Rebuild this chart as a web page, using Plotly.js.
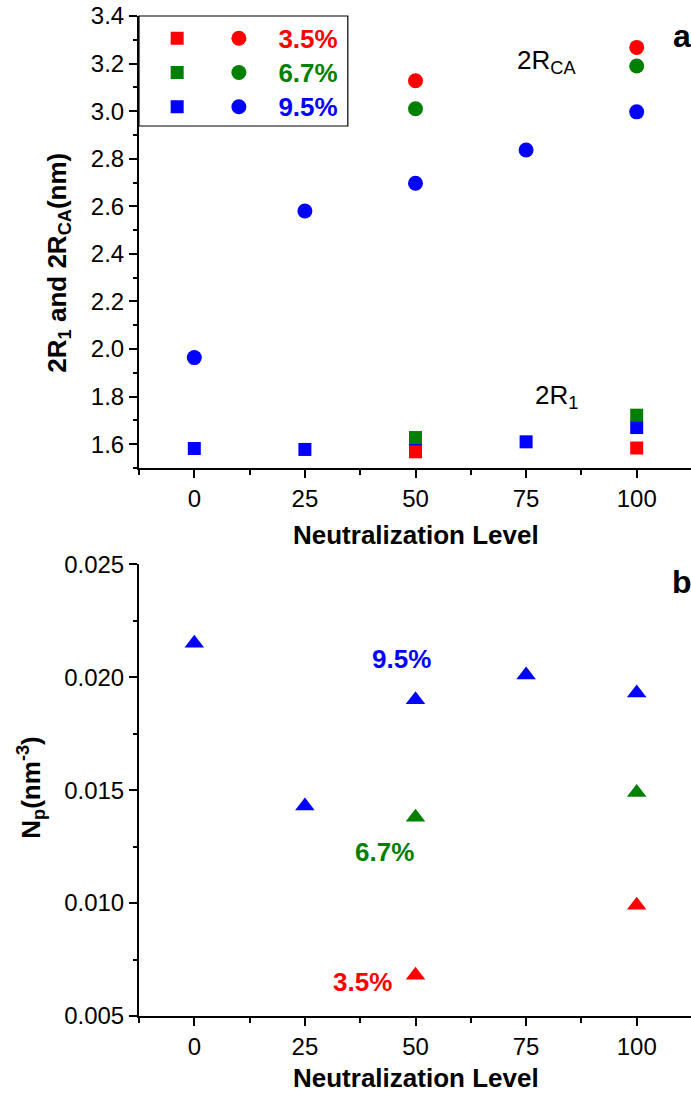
<!DOCTYPE html>
<html><head><meta charset="utf-8">
<script src="https://cdn.plot.ly/plotly-3.0.1.min.js"></script>
<style>html,body{margin:0;padding:0;overflow:hidden;background:#fff}#chart{width:700px;height:1093px}</style>
</head><body><div id="chart"></div>
<script>
// ---- data ----
const levels = [0, 25, 50, 75, 100];
// 2R1 (squares)
const r1_35 = [null, null, 1.568, null, 1.584];
const r1_67 = [null, null, 1.628, null, 1.722];
const r1_95 = [1.582, 1.578, 1.600, 1.610, 1.670];
// 2RCA (circles)
const rca_35 = [null, null, 3.128, null, 3.268];
const rca_67 = [null, null, 3.010, null, 3.190];
const rca_95 = [1.964, 2.580, 2.697, 2.837, 2.997];
// Np (triangles)
const np_35 = [null, null, 0.0068, null, 0.0099];
const np_67 = [null, null, 0.0138, null, 0.0149];
const np_95 = [0.0215, 0.0143, 0.0190, 0.0201, 0.0193];
const seriesNames = ['3.5%', '6.7%', '9.5%'];
const colors = ['#ff0000', '#008000', '#0000ff'];
const xTicks = [0, 25, 50, 75, 100];

// ---- layout geometry (pixels) ----
const W = 700, H = 1093, L = 138.5, R = 692.5, T = 16, B = 1016;
const pw = R - L, ph = B - T;
const px2x = p => (p - L) / pw;
const py2y = p => (B - p) / ph;

const FONT = 'Liberation Sans, Arial, Helvetica, sans-serif';
const black = '#000000';

const traces = [];
// squares: blue, green, red order (red on top)
[[r1_95, 2], [r1_67, 1], [r1_35, 0]].forEach(([d, i]) => {
  traces.push({x: levels, y: d, type: 'scatter', mode: 'markers', xaxis: 'x', yaxis: 'y',
    name: ' ', legend: 'legend', legendrank: i + 1,
    marker: {symbol: 'square', size: 13, color: colors[i]}, hoverinfo: 'skip'});
});
[[rca_95, 2], [rca_67, 1], [rca_35, 0]].forEach(([d, i]) => {
  traces.push({x: levels, y: d, type: 'scatter', mode: 'markers', xaxis: 'x', yaxis: 'y',
    name: '<span style="color:' + colors[i] + ';font-size:26px">' + seriesNames[i] + '</span>',
    legend: 'legend2', legendrank: i + 1,
    marker: {symbol: 'circle', size: 15, color: colors[i]}, hoverinfo: 'skip'});
});
[[np_95, 2], [np_67, 1], [np_35, 0]].forEach(([d, i]) => {
  traces.push({x: levels, y: d, type: 'scatter', mode: 'markers', xaxis: 'x2', yaxis: 'y2',
    name: seriesNames[i], showlegend: false,
    marker: {symbol: 'triangle-up', size: 17, color: colors[i]}, hoverinfo: 'skip'});
});

const tickFont = {family: FONT, size: 24, color: black};
function xAxisBase(anchor) {
  return {domain: [0, 1], anchor: anchor, range: [-12.5, 112.5], tickmode: 'array', tickvals: xTicks,
    ticks: 'outside', ticklen: 8, tickwidth: 2, tickcolor: black,
    showline: true, linewidth: 2, linecolor: black, showgrid: false, zeroline: false,
    tickfont: tickFont,
    minor: {tick0: 0, dtick: 12.5, ticks: 'outside', ticklen: 5, tickwidth: 2, tickcolor: black, showgrid: false}};
}
function xAxisTop(over, anchor) {
  return {overlaying: over, anchor: anchor, side: 'top', range: [-12.5, 112.5], tickmode: 'array', tickvals: xTicks,
    ticks: 'inside', ticklen: 9, tickwidth: 2, tickcolor: black, showticklabels: false,
    showline: true, linewidth: 2, linecolor: black, showgrid: false, zeroline: false,
    minor: {tick0: 0, dtick: 12.5, ticks: 'inside', ticklen: 4, tickwidth: 2, tickcolor: black, showgrid: false}};
}
function yAxisRight(over, anchor, range, dtick) {
  return {overlaying: over, anchor: anchor, side: 'right', range: range, tick0: 0, dtick: dtick,
    ticks: 'inside', ticklen: 9, tickwidth: 2, tickcolor: black, showticklabels: false,
    showline: true, linewidth: 2, linecolor: black, showgrid: false, zeroline: false};
}

const legFont = {family: FONT, size: 24, weight: 'bold', color: black};
const layout = {
  width: W, height: H, autosize: false,
  margin: {l: L, r: W - R, t: T, b: H - B, pad: 0},
  paper_bgcolor: '#ffffff', plot_bgcolor: 'rgba(0,0,0,0)',
  font: {family: FONT, color: black},
  xaxis: xAxisBase('y'),
  xaxis2: xAxisBase('y2'),
  xaxis3: xAxisTop('x', 'y'),
  xaxis4: xAxisTop('x2', 'y2'),
  yaxis: {domain: [py2y(468), 1], anchor: 'x', range: [1.5, 3.4], tick0: 0, dtick: 0.2, tickformat: '.1f',
    ticks: 'outside', ticklen: 8, tickwidth: 2, tickcolor: black,
    showline: true, linewidth: 2, linecolor: black, showgrid: false, zeroline: false, tickfont: tickFont,
    minor: {tick0: 0, dtick: 0.1, ticks: 'outside', ticklen: 4, tickwidth: 2, tickcolor: black, showgrid: false}},
  yaxis2: {domain: [0, py2y(564.3)], anchor: 'x2', range: [0.005, 0.025], tick0: 0, dtick: 0.005, tickformat: '.3f',
    ticks: 'outside', ticklen: 8, tickwidth: 2, tickcolor: black,
    showline: true, linewidth: 2, linecolor: black, showgrid: false, zeroline: false, tickfont: tickFont,
    minor: {tick0: 0, dtick: 0.0025, ticks: 'outside', ticklen: 4, tickwidth: 2, tickcolor: black, showgrid: false}},
  yaxis3: yAxisRight('y', 'x', [1.5, 3.4], 0.2),
  yaxis4: yAxisRight('y2', 'x2', [0.005, 0.025], 0.005),
  showlegend: true,
  legend: {x: px2x(156.7), y: py2y(16.2), xanchor: 'left', yanchor: 'top', bgcolor: 'rgba(0,0,0,0)',
    borderwidth: 0, itemwidth: 30, font: legFont, tracegroupgap: 0},
  legend2: {x: px2x(199), y: py2y(16.2), xanchor: 'left', yanchor: 'top', bgcolor: 'rgba(0,0,0,0)',
    borderwidth: 0, itemwidth: 69, font: legFont, tracegroupgap: 0},
  shapes: [{type: 'rect', xref: 'paper', yref: 'paper', x0: px2x(138.5), x1: px2x(347.7), y0: py2y(126), y1: 1,
    line: {color: black, width: 1.2}, fillcolor: 'rgba(0,0,0,0)'}],
  annotations: [
    {xref: 'paper', yref: 'paper', x: px2x(57), y: py2y(263), xanchor: 'center', yanchor: 'middle', textangle: -90,
      showarrow: false, text: '2R<sub>1</sub> and 2R<sub>CA</sub>(nm)', font: {family: FONT, size: 26, weight: 'bold', color: black}},
    {xref: 'paper', yref: 'paper', x: px2x(30), y: py2y(788), xanchor: 'center', yanchor: 'middle', textangle: -90,
      showarrow: false, text: 'N<sub>p</sub>(nm<sup>-3</sup>)', font: {family: FONT, size: 26, weight: 'bold', color: black}},
    {xref: 'paper', yref: 'paper', x: px2x(415.5), y: py2y(535), xanchor: 'center', yanchor: 'middle',
      showarrow: false, text: 'Neutralization Level', font: {family: FONT, size: 26, weight: 'bold', color: black}},
    {xref: 'paper', yref: 'paper', x: px2x(416.5), y: py2y(1078), xanchor: 'center', yanchor: 'middle',
      showarrow: false, text: 'Neutralization Level', font: {family: FONT, size: 26, weight: 'bold', color: black}},
    {xref: 'paper', yref: 'paper', x: px2x(671), y: py2y(36), xanchor: 'left', yanchor: 'middle',
      showarrow: false, text: 'a', font: {family: FONT, size: 32, weight: 'bold', color: black}},
    {xref: 'paper', yref: 'paper', x: px2x(670), y: py2y(582), xanchor: 'left', yanchor: 'middle',
      showarrow: false, text: 'b', font: {family: FONT, size: 32, weight: 'bold', color: black}},
    {xref: 'x', yref: 'y', x: 79.7, y: 3.21, xanchor: 'center', yanchor: 'middle',
      showarrow: false, text: '2R<sub>CA</sub>', font: {family: FONT, size: 26, color: black}},
    {xref: 'x', yref: 'y', x: 81.8, y: 1.80, xanchor: 'center', yanchor: 'middle',
      showarrow: false, text: '2R<sub>1</sub>', font: {family: FONT, size: 26, color: black}},
    {xref: 'x2', yref: 'y2', x: 46.8, y: 0.0208, xanchor: 'center', yanchor: 'middle',
      showarrow: false, text: '9.5%', font: {family: FONT, size: 26, weight: 'bold', color: colors[2]}},
    {xref: 'x2', yref: 'y2', x: 42.9, y: 0.01227, xanchor: 'center', yanchor: 'middle',
      showarrow: false, text: '6.7%', font: {family: FONT, size: 26, weight: 'bold', color: colors[1]}},
    {xref: 'x2', yref: 'y2', x: 38.0, y: 0.00652, xanchor: 'center', yanchor: 'middle',
      showarrow: false, text: '3.5%', font: {family: FONT, size: 26, weight: 'bold', color: colors[0]}}
  ]
};

Plotly.newPlot('chart', traces, layout, {displayModeBar: false, staticPlot: true, responsive: false});
</script>
</body></html>
